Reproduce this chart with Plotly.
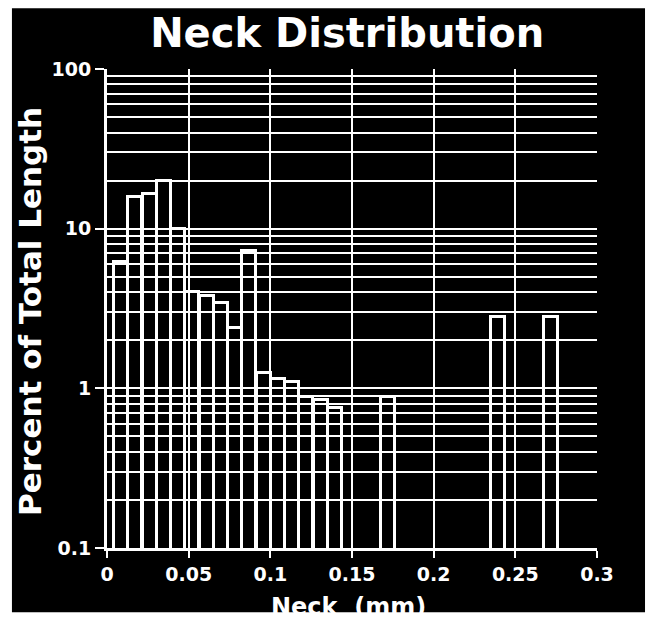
import plotly.graph_objects as go

# Bar centers (mm) and heights (% of total length)
neck_mm = [0.0087, 0.0174, 0.0261, 0.0348, 0.0435, 0.0523, 0.0610, 0.0697,
           0.0784, 0.0872, 0.0959, 0.1046, 0.1133, 0.1221, 0.1308, 0.1395,
           0.1720, 0.2394, 0.2720]
percent = [6.2, 15.8, 16.5, 20.0, 10.0, 4.0, 3.8, 3.4,
           2.4, 7.2, 1.25, 1.15, 1.1, 0.88, 0.85, 0.75,
           0.88, 2.8, 2.8]

x_ticks = [0, 0.05, 0.1, 0.15, 0.2, 0.25, 0.3]
x_tick_text = ["0", "0.05", "0.1", "0.15", "0.2", "0.25", "0.3"]
y_ticks = [0.1, 1, 10, 100]
y_tick_text = ["0.1", "1", "10", "100"]

FONT = "DejaVu Sans"

fig = go.Figure()
fig.add_trace(go.Bar(
    x=neck_mm, y=percent, width=0.0085,
    marker=dict(color="rgba(0,0,0,0)", line=dict(color="white", width=3)),
    showlegend=False,
))

fig.update_layout(
    width=655, height=622,
    paper_bgcolor="white",
    plot_bgcolor="black",
    margin=dict(l=107, r=58, t=69, b=74),
    bargap=0,
    title=dict(text="Neck Distribution", x=0.53, xanchor="center",
               y=0.947, yanchor="middle",
               font=dict(family=FONT, size=40, color="white", weight="bold")),
    shapes=[dict(type="rect", xref="paper", yref="paper",
                 x0=-0.194, x1=1.098, y0=-0.134, y1=1.127,
                 fillcolor="black", line=dict(width=0), layer="below")],
    annotations=[
        dict(text="Percent of Total Length", xref="paper", yref="paper",
             x=-0.157, y=0.493, xanchor="center", yanchor="middle",
             textangle=-90, showarrow=False,
             font=dict(family=FONT, size=31, color="white", weight="bold")),
        dict(text="Neck  (mm)", xref="paper", yref="paper",
             x=0.492, y=-0.123, xanchor="center", yanchor="middle",
             showarrow=False,
             font=dict(family=FONT, size=24, color="white", weight="bold")),
    ],
    font=dict(family=FONT, color="white"),
)

fig.update_xaxes(
    range=[0, 0.3], tickvals=x_ticks, ticktext=x_tick_text,
    tickfont=dict(family=FONT, size=19, color="white", weight="bold"),
    showgrid=True, gridcolor="white", gridwidth=2,
    showline=True, linecolor="white", linewidth=3,
    ticks="outside", tickcolor="white", ticklen=7, tickwidth=2,
    zeroline=False,
)
fig.update_yaxes(
    type="log", range=[-1, 2], tickvals=y_ticks, ticktext=y_tick_text,
    tickfont=dict(family=FONT, size=19, color="white", weight="bold"),
    showgrid=True, gridcolor="white", gridwidth=2,
    minor=dict(showgrid=True, gridcolor="white", gridwidth=2,
               tickvals=[v * d for d in (0.1, 1, 10) for v in range(2, 10)]),
    showline=True, linecolor="white", linewidth=3,
    ticks="outside", tickcolor="white", ticklen=9, tickwidth=2,
    zeroline=False,
)

fig.write_html("out.html", config={"displayModeBar": False},
               post_script="document.body.style.margin='0';")
